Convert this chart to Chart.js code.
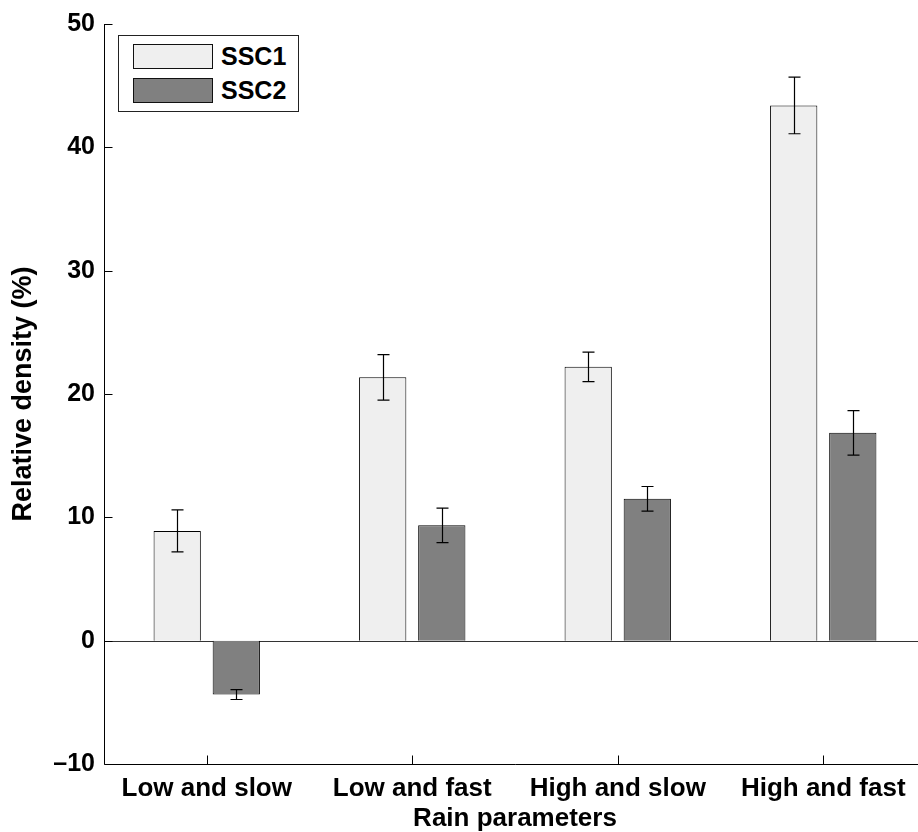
<!DOCTYPE html>
<html>
<head>
<meta charset="utf-8">
<script src="https://cdn.jsdelivr.net/npm/chart.js@4"></script>
<style>
  html, body { margin: 0; padding: 0; background: #fff; overflow: hidden; width: 918px; height: 832px; }
  #wrap { position: relative; width: 926px; height: 832px; }
  canvas { position: absolute; left: 0; top: 0; }
  #legend { position: absolute; left: 118px; top: 35px; width: 179px; height: 75px; border: 1px solid #222; background: #fff;
            font-family: "Liberation Sans", Arial, sans-serif; font-weight: bold; font-size: 25px; color: #000; }
  .item { position: absolute; left: 14px; height: 25px; display: flex; align-items: center; }
  .sw { width: 78px; height: 23px; border: 1px solid #111; margin-right: 8px; }
</style>
</head>
<body>
<div id="wrap">
  <canvas id="c" width="926" height="832"></canvas>
  <div id="legend"></div>
</div>
<script>
const categories = ["Low and slow", "Low and fast", "High and slow", "High and fast"];
const seriesNames = ["SSC1", "SSC2"];
const ssc1 = [8.9, 21.35, 22.2, 43.4];
const ssc2 = [-4.37, 9.35, 11.5, 16.85];
const ssc1Err = [1.7, 1.85, 1.2, 2.3];
const ssc2Err = [0.4, 1.4, 1.0, 1.8];
const yTicks = [-10, 0, 10, 20, 30, 40, 50];
const xAxisTitle = "Rain parameters";
const yAxisTitle = "Relative density (%)";
const colors = ["#efefef", "#808080"];

const FONT = "'Liberation Sans', Arial, sans-serif";

// legend (HTML)
const leg = document.getElementById('legend');
seriesNames.forEach((n, i) => {
  const it = document.createElement('div');
  it.className = 'item';
  it.style.top = (8 + i * 34) + 'px';
  it.innerHTML = '<div class="sw" style="background:' + colors[i] + '"></div><span>' + n + '</span>';
  leg.appendChild(it);
});

const errors = [ssc1Err, ssc2Err];

const errorBarPlugin = {
  id: 'errorBars',
  afterDatasetsDraw(chart) {
    const ctx = chart.ctx;
    const y = chart.scales.y;
    ctx.save();
    ctx.strokeStyle = '#000';
    ctx.lineWidth = 1.2;
    chart.data.datasets.forEach((ds, di) => {
      const meta = chart.getDatasetMeta(di);
      meta.data.forEach((bar, i) => {
        const v = ds.data[i], e = errors[di][i];
        const yh = y.getPixelForValue(v + e), yl = y.getPixelForValue(v - e);
        const x = Math.round(bar.x) + 0.5;
        ctx.beginPath();
        ctx.moveTo(x, yh); ctx.lineTo(x, yl);
        ctx.moveTo(x - 6, yh); ctx.lineTo(x + 6, yh);
        ctx.moveTo(x - 6, yl); ctx.lineTo(x + 6, yl);
        ctx.stroke();
      });
    });
    ctx.restore();
  }
};

const axisPlugin = {
  id: 'matlabAxes',
  afterDraw(chart) {
    const ctx = chart.ctx;
    const a = chart.chartArea;
    const xs = chart.scales.x, ys = chart.scales.y;
    ctx.save();
    ctx.strokeStyle = '#000';
    ctx.lineWidth = 1;
    ctx.beginPath();
    const L = Math.round(a.left) + 0.5, B = Math.round(a.bottom) + 0.5;
    ctx.moveTo(L, a.top); ctx.lineTo(L, B); ctx.lineTo(a.right, B);
    ys.ticks.forEach((t, i) => {
      const py = Math.round(ys.getPixelForTick(i)) + 0.5;
      ctx.moveTo(L, py); ctx.lineTo(L + 8, py);
    });
    xs.ticks.forEach((t, i) => {
      const px = Math.round(xs.getPixelForTick(i)) + 0.5;
      ctx.moveTo(px, B); ctx.lineTo(px, B - 9);
    });
    ctx.stroke();
    ctx.restore();
  }
};

const zeroLinePlugin = {
  id: 'zeroLine',
  beforeDatasetsDraw(chart) {
    const ctx = chart.ctx, a = chart.chartArea;
    const py = Math.round(chart.scales.y.getPixelForValue(0)) + 0.5;
    ctx.save();
    ctx.strokeStyle = '#333';
    ctx.lineWidth = 1;
    ctx.beginPath(); ctx.moveTo(a.left, py); ctx.lineTo(a.right, py); ctx.stroke();
    ctx.restore();
  }
};

new Chart(document.getElementById('c'), {
  type: 'bar',
  data: {
    labels: categories,
    datasets: [
      { label: seriesNames[0], data: ssc1, backgroundColor: colors[0], borderColor: '#000', borderWidth: 1 },
      { label: seriesNames[1], data: ssc2, backgroundColor: colors[1], borderColor: '#000', borderWidth: 1 }
    ]
  },
  options: {
    responsive: false,
    animation: false,
    devicePixelRatio: 1,
    layout: { padding: { top: 22, left: 0, right: 0, bottom: 0 } },
    plugins: { legend: { display: false }, tooltip: { enabled: false } },
    datasets: { bar: { categoryPercentage: 0.575, barPercentage: 0.8 } },
    scales: {
      x: {
        offset: true,
        grid: { display: false, drawTicks: false },
        border: { display: false },
        ticks: { color: '#000', font: { family: FONT, size: 26, weight: 'bold' }, padding: 9, maxRotation: 0, autoSkip: false },
        title: { display: true, text: xAxisTitle, color: '#000', font: { family: FONT, size: 26, weight: 'bold', lineHeight: 1 }, padding: { top: 0, bottom: 0 } },
        afterFit(s) { s.height = 68; }
      },
      y: {
        min: -10, max: 50,
        afterBuildTicks(s) { s.ticks = yTicks.map(v => ({ value: v })); },
        grid: { display: false, drawTicks: false },
        border: { display: false },
        ticks: { color: '#000', font: { family: FONT, size: 25, weight: 'bold' }, padding: 9,
                 callback: v => String(v).replace('-', '\u2013') },
        title: { display: true, text: yAxisTitle, color: '#000', font: { family: FONT, size: 27, weight: 'bold' }, padding: { top: 7, bottom: 0 } },
        afterFit(s) { s.width = 104; }
      }
    }
  },
  plugins: [zeroLinePlugin, errorBarPlugin, axisPlugin]
});
</script>
</body>
</html>
